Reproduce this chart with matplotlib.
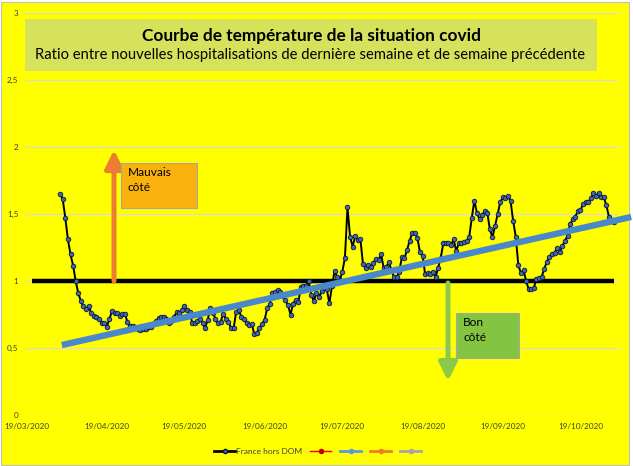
import numpy as np, pandas as pd
import matplotlib; matplotlib.use('Agg')
import matplotlib.pyplot as plt
import matplotlib.dates as mdates
from matplotlib.patches import Rectangle
from matplotlib.lines import Line2D

plt.rcParams['font.family'] = ['Lato', 'DejaVu Sans']

# ratio hospitalisations semaine / semaine precedente, France hors DOM, from 01/04/2020
ratio = [1.65, 1.61, 1.47, 1.31, 1.20, 1.115, 1.00, 0.91, 0.85, 0.81,
         0.79, 0.815, 0.76, 0.74, 0.735, 0.72, 0.69, 0.685, 0.658, 0.713,
         0.776, 0.763, 0.758, 0.741, 0.753, 0.751, 0.696, 0.663, 0.663, 0.66,
         0.64, 0.635, 0.64, 0.645, 0.655, 0.66, 0.68, 0.70, 0.725, 0.73,
         0.735, 0.72, 0.69, 0.70, 0.735, 0.765, 0.76, 0.78, 0.81, 0.785,
         0.77, 0.69, 0.685, 0.70, 0.714, 0.684, 0.65, 0.71, 0.80, 0.76,
         0.72, 0.684, 0.697, 0.754, 0.72, 0.697, 0.65, 0.647, 0.77, 0.78,
         0.734, 0.716, 0.684, 0.672, 0.68, 0.604, 0.614, 0.65, 0.68, 0.71,
         0.80, 0.83, 0.913, 0.92, 0.93, 0.92, 0.89, 0.858, 0.82, 0.75,
         0.83, 0.86, 0.84, 0.958, 0.965, 0.965, 1.0, 0.896, 0.85, 0.913,
         0.878, 0.925, 0.945, 0.94, 0.833, 0.96, 1.075, 1.03, 1.0, 1.07,
         1.17, 1.55, 1.33, 1.256, 1.338, 1.306, 1.311, 1.124, 1.095, 1.12,
         1.107, 1.137, 1.164, 1.157, 1.20, 1.095, 1.107, 1.139, 1.08, 1.027,
         1.027, 1.07, 1.177, 1.169, 1.231, 1.30, 1.356, 1.356, 1.323, 1.214,
         1.19, 1.05, 1.06, 1.05, 1.065, 1.027, 1.10, 1.17, 1.28, 1.28,
         1.28, 1.27, 1.31, 1.226, 1.28, 1.28, 1.29, 1.30, 1.326, 1.468,
         1.60, 1.51, 1.46, 1.49, 1.52, 1.51, 1.386, 1.326, 1.41, 1.50,
         1.587, 1.624, 1.617, 1.634, 1.597, 1.448, 1.331, 1.119, 1.057, 1.082,
         1.00, 0.938, 0.938, 0.95, 1.015, 1.025, 1.032, 1.087, 1.144, 1.18,
         1.20, 1.21, 1.25, 1.219, 1.26, 1.30, 1.338, 1.423, 1.46, 1.48,
         1.522, 1.53, 1.572, 1.587, 1.587, 1.617, 1.654, 1.634, 1.659, 1.624,
         1.624, 1.565, 1.48, 1.45, 1.44]
dates = pd.date_range('2020-04-01', periods=len(ratio), freq='D')
tick_dates = pd.date_range('2020-03-19', periods=8, freq=pd.DateOffset(months=1))
yticks = [0, 0.5, 1, 1.5, 2, 2.5, 3]
ylabels = ['0', '0,5', '1', '1,5', '2', '2,5', '3']
# seuil et tendance (traces a la main sur le graphique)
seuil_x = [pd.Timestamp('2020-03-21'), pd.Timestamp('2020-11-01')]
seuil_y = [1, 1]
tend_x = [pd.Timestamp('2020-04-01 16:00'), pd.Timestamp('2020-11-07 14:00')]
tend_y = [0.522, 1.478]

W, H = 633, 466
fig = plt.figure(figsize=(W/100, H/100), dpi=100)
fig.patch.set_facecolor('white')
fig.patches.append(Rectangle((0.5/W, 1.5/H), 628/W, 463/H, transform=fig.transFigure,
                             fc='#FFFF00', ec='#BFBFBF', lw=0.8, zorder=-5))
def fr(x, y): return (x/W, 1-y/H)

ax = fig.add_axes([25.2/W, 51/H, (618-25.2)/W, (415-13)/H])
ax.set_zorder(1)
ax.set_facecolor('none')
for s in ax.spines.values(): s.set_visible(False)
ax.set_ylim(0, 3)
ax.set_xlim(pd.Timestamp('2020-03-18 12:00'), pd.Timestamp('2020-11-02 12:00'))
ax.set_yticks(yticks); ax.set_yticklabels(ylabels)
ax.set_xticks(tick_dates)
ax.xaxis.set_major_formatter(mdates.DateFormatter('%d/%m/%Y'))
ax.tick_params(length=0, labelsize=5.9, colors='#404040', pad=6)
ax.tick_params(axis='y', pad=5)
ax.grid(axis='y', color='#D9D9D9', lw=0.9)
ax.set_axisbelow(True)

ax.plot(seuil_x, seuil_y, color='black', lw=3.2, zorder=2.5, solid_capstyle='butt', clip_on=False)
ax.plot(dates, ratio, color='black', lw=1.4, marker='o', ms=3.3, mfc='#3D68B8', mec='#101830',
        mew=0.6, zorder=3)
ax.plot(tend_x, tend_y, color='#4A88CC', lw=4.6, zorder=4, solid_capstyle='butt', clip_on=False)

# titre
fig.patches.append(Rectangle(fr(25, 71), 572/W, 52/H, transform=fig.transFigure,
                             fc='#D6E25C', ec='none', zorder=5))
fig.text(*fr(311, 36), 'Courbe de température de la situation covid', ha='center', va='center',
         fontsize=12.4, fontweight='bold', color='black', zorder=6)
fig.text(*fr(310, 55), 'Ratio entre nouvelles hospitalisations de dernière semaine et de semaine précédente',
         ha='center', va='center', fontsize=10.6, color='black', zorder=6)

# fleches
ax.annotate('', xy=(114, H-150), xycoords='figure pixels', xytext=(114, H-281), textcoords='figure pixels',
            arrowprops=dict(arrowstyle='-|>', lw=3.6, color='#ED7D31', mutation_scale=27,
                            shrinkA=0, shrinkB=0), zorder=5)
ax.annotate('', xy=(448, H-381), xycoords='figure pixels', xytext=(448, H-283), textcoords='figure pixels',
            arrowprops=dict(arrowstyle='-|>', lw=3.6, color='#8CC84B', mutation_scale=27,
                            shrinkA=0, shrinkB=0), zorder=5)
fig.patches.append(Rectangle(fr(121, 208), 76/W, 45/H, transform=fig.transFigure,
                             fc='#F9B10E', ec='#A6A6A6', lw=0.8, zorder=5))
fig.text(*fr(128, 167), 'Mauvais\ncôté', ha='left', va='top', fontsize=8.6, linespacing=1.45, zorder=6)
fig.patches.append(Rectangle(fr(456, 358), 63/W, 45/H, transform=fig.transFigure,
                             fc='#84C443', ec='#A6A6A6', lw=0.8, zorder=5))
fig.text(*fr(463, 317), 'Bon\ncôté', ha='left', va='top', fontsize=8.6, linespacing=1.45, zorder=6)

# legende
handles = [Line2D([], [], color='black', lw=2, marker='o', ms=3, mfc='#3D68B8', mec='#101830'),
           Line2D([], [], color='#FF0000', lw=1, marker='o', ms=3, mfc='#C00000', mec='#C00000'),
           Line2D([], [], color='#5B9BD5', lw=2, marker='o', ms=3, mfc='#5B9BD5', mec='#5B9BD5'),
           Line2D([], [], color='#ED7D31', lw=2, marker='o', ms=3, mfc='#ED7D31', mec='#ED7D31'),
           Line2D([], [], color='#A5A5A5', lw=2, marker='o', ms=3, mfc='#A5A5A5', mec='#A5A5A5')]
fig.legend(handles, ['France hors DOM', '', '', '', ''], loc='center', bbox_to_anchor=fr(318, 451),
           ncol=5, frameon=False, fontsize=6, handlelength=2.6, columnspacing=0.9,
           handletextpad=0.1, labelcolor='#404040')

fig.savefig('out.png', dpi=100, facecolor=fig.get_facecolor())
